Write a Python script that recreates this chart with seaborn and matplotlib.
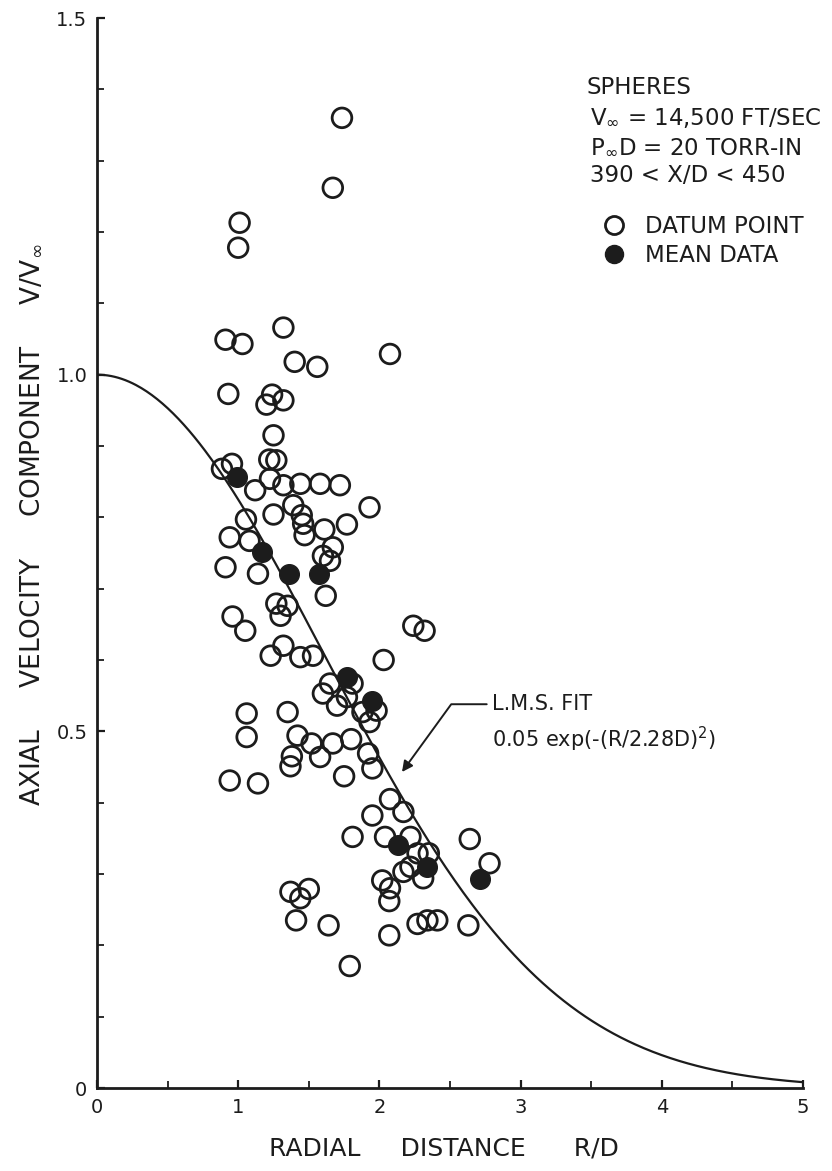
import numpy as np
import matplotlib
matplotlib.use("Agg")
import matplotlib.pyplot as plt
from matplotlib.lines import Line2D
from matplotlib.ticker import MultipleLocator
import seaborn as sns

# ---------------- data ----------------
datum_r = [1.735, 1.67, 1.01, 1.00, 0.91, 1.03, 1.32, 1.40, 1.56, 2.075,
           0.93, 1.24, 1.32, 1.20, 1.25, 1.22, 1.27, 0.885, 0.956, 1.225,
           1.12, 1.32, 1.44, 1.58, 1.72, 1.25, 1.39, 1.45, 1.46, 1.47,
           1.93, 1.77, 1.61, 1.055, 0.94, 1.08, 0.91, 1.14, 1.67, 1.60,
           1.65, 1.62, 1.27, 1.35, 1.30, 0.96, 1.05, 2.24, 2.32, 1.32,
           1.23, 1.44, 1.53, 2.03, 1.81, 1.65, 1.60, 1.70, 1.77, 1.98,
           1.93, 1.88, 1.06, 1.06, 1.35, 1.42, 1.52, 1.67, 1.80, 1.92,
           1.95, 1.38, 1.37, 1.58, 1.75, 0.94, 1.14, 2.075, 2.17, 1.95,
           1.81, 2.04, 2.22, 2.27, 2.35, 2.22, 2.17, 2.31, 2.02, 2.075,
           2.07, 2.64, 2.78, 1.37, 1.50, 1.44, 1.41, 1.64, 2.07, 2.27,
           2.34, 2.41, 2.63, 1.79]
datum_v = [1.36, 1.262, 1.213, 1.178, 1.049, 1.043, 1.066, 1.018, 1.011, 1.029,
           0.973, 0.972, 0.964, 0.958, 0.915, 0.881, 0.880, 0.868, 0.875, 0.854,
           0.838, 0.845, 0.847, 0.847, 0.845, 0.804, 0.817, 0.803, 0.791, 0.775,
           0.814, 0.790, 0.783, 0.797, 0.772, 0.767, 0.730, 0.721, 0.758, 0.746,
           0.739, 0.690, 0.679, 0.676, 0.662, 0.661, 0.641, 0.648, 0.641, 0.620,
           0.606, 0.604, 0.606, 0.600, 0.567, 0.567, 0.553, 0.536, 0.548, 0.529,
           0.513, 0.527, 0.525, 0.492, 0.527, 0.494, 0.483, 0.483, 0.489, 0.469,
           0.448, 0.465, 0.451, 0.464, 0.437, 0.431, 0.427, 0.405, 0.387, 0.382,
           0.352, 0.352, 0.352, 0.329, 0.329, 0.310, 0.303, 0.294, 0.291, 0.280,
           0.262, 0.349, 0.315, 0.275, 0.279, 0.266, 0.235, 0.228, 0.214, 0.230,
           0.235, 0.235, 0.228, 0.171]
mean_r = [0.99, 1.17, 1.36, 1.57, 1.77, 1.95, 2.13, 2.34, 2.71]
mean_v = [0.856, 0.752, 0.721, 0.721, 0.576, 0.543, 0.340, 0.310, 0.293]
fit_scale = 2.28

x_ticks = [0, 1, 2, 3, 4, 5]
x_tick_labels = ["0", "1", "2", "3", "4", "5"]
y_ticks = [0, 0.5, 1.0, 1.5]
y_tick_labels = ["0", "0.5", "1.0", "1.5"]

info_lines = ["SPHERES", r"V$_\infty$ = 14,500 FT/SEC",
              r"P$_\infty$D = 20 TORR-IN", "390 < X/D < 450"]
legend_labels = ["DATUM POINT", "MEAN DATA"]

# ---------------- style ----------------
sns.set_style("ticks")
plt.rcParams['font.family'] = ['DejaVu Sans']
plt.rcParams['mathtext.fontset'] = 'dejavusans'
INK = "#1c1c1c"

W, H = 832, 1171
fig = plt.figure(figsize=(W / 100, H / 100), dpi=100)
fig.patch.set_facecolor("white")
ax = fig.add_axes([97 / W, 1 - 1088 / H, 706 / W, 1070 / H])
ax.set_facecolor("white")

fit_r = np.linspace(0, 5, 400)
fit_v = np.exp(-(fit_r / fit_scale) ** 2)
sns.lineplot(x=fit_r, y=fit_v, ax=ax, color=INK, linewidth=1.6, zorder=2)

sns.scatterplot(x=datum_r, y=datum_v, ax=ax, s=200, facecolors="none",
                edgecolors=INK, linewidths=2.0, zorder=3, legend=False)
sns.scatterplot(x=mean_r, y=mean_v, ax=ax, s=200, color=INK,
                edgecolor=INK, linewidth=1.0, zorder=4, legend=False)

ax.set_xlim(0, 5)
ax.set_ylim(0, 1.5)
ax.set_xticks(x_ticks)
ax.set_xticklabels(x_tick_labels)
ax.set_yticks(y_ticks)
ax.set_yticklabels(y_tick_labels)
ax.xaxis.set_minor_locator(MultipleLocator(0.5))
ax.yaxis.set_minor_locator(MultipleLocator(0.1))
ax.tick_params(axis='both', which='major', direction='in', length=6,
               width=1.6, color=INK, labelsize=14, labelcolor=INK, pad=7)
ax.tick_params(axis='both', which='minor', direction='in', length=5,
               width=1.3, color=INK)
for side in ["top", "right"]:
    ax.spines[side].set_visible(False)
for side in ["left", "bottom"]:
    ax.spines[side].set_linewidth(2.0)
    ax.spines[side].set_color(INK)

ax.set_xlabel("RADIAL     DISTANCE      R/D", fontsize=18, color=INK)
ax.xaxis.set_label_coords(0.492, -0.045)
ax.set_ylabel(r"AXIAL     VELOCITY     COMPONENT     V/V$_\infty$",
              fontsize=19, color=INK)
ax.yaxis.set_label_coords(-0.075, 0.526)

# info block
info_y = [88, 118, 147, 175]
info_x = [587, 590, 590, 590]
for txt, px, py in zip(info_lines, info_x, info_y):
    fig.text(px / W, 1 - py / H, txt, fontsize=16.5, color=INK,
             ha="left", va="center")

handles = [Line2D([], [], linestyle="none", marker="o", markersize=13,
                  markerfacecolor="white", markeredgecolor=INK,
                  markeredgewidth=2.0),
           Line2D([], [], linestyle="none", marker="o", markersize=13,
                  markerfacecolor=INK, markeredgecolor=INK)]
ax.legend(handles, legend_labels, loc="upper left",
          bbox_to_anchor=(603 / W, 1 - 215 / H), bbox_transform=fig.transFigure,
          frameon=False, fontsize=16.5, handlelength=1.0, handletextpad=0.85,
          labelspacing=0.25, borderpad=0, borderaxespad=0,
          labelcolor=INK)

# fit annotation
ax.annotate("", xy=(2.16, 0.443), xytext=(2.76, 0.538),
            arrowprops=dict(arrowstyle="-|>", color=INK, lw=1.4,
                            connectionstyle="angle,angleA=0,angleB=54,rad=0",
                            shrinkA=0, shrinkB=0, mutation_scale=16))
ax.text(2.80, 0.538, "L.M.S. FIT", fontsize=15, color=INK, va="center")
ax.text(2.80, 0.488, r"0.05 exp(-(R/2.28D)$^2$)", fontsize=15, color=INK,
        va="center")

fig.savefig("out.png", dpi=100, facecolor="white")
